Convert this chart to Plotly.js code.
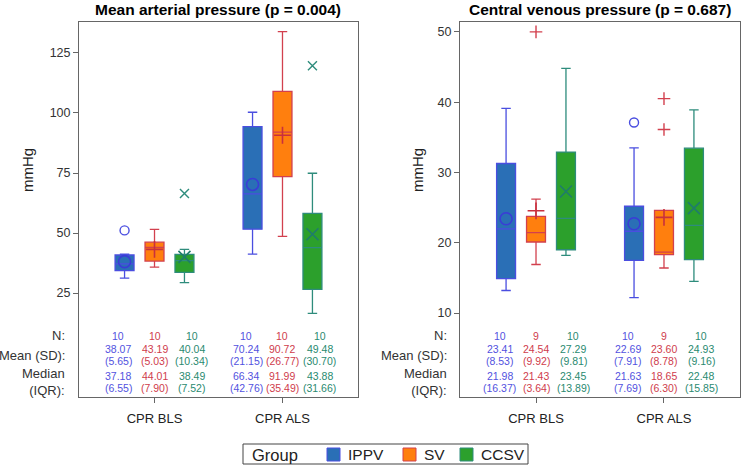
<!DOCTYPE html>
<html><head><meta charset="utf-8">
<script src="https://cdn.plot.ly/plotly-3.0.1.min.js"></script>
<style>html,body{margin:0;padding:0;background:#fff}</style>
</head><body><div id="chart" style="width:743px;height:469px"></div>
<script>
// ---------- data ----------
const categories = ['CPR BLS', 'CPR ALS'];
const groups = ['IPPV', 'SV', 'CCSV'];
const legendTitle = 'Group';
const panelTitles = ['Mean arterial pressure (p = 0.004)', 'Central venous pressure (p = 0.687)'];
const yTitle = 'mmHg';
const rowLabels = ['N:', 'Mean (SD):', 'Median<br>(IQR):'];

// Mean arterial pressure: [group][category]
const mapQ1 = [[34.3, 51.6], [38.3, 73.5], [33.6, 26.5]];
const mapMedian = [[37.18, 66.34], [44.01, 91.99], [38.49, 43.88]];
const mapQ3 = [[40.85, 94.36], [46.2, 108.99], [41.12, 58.16]];
const mapLow = [[31.25, 41.25], [35.8, 48.6], [29.3, 16.5]];
const mapHigh = [[41.2, 100.3], [51.5, 133.9], [43.2, 74.9]];
const mapN = [[10, 10], [10, 10], [10, 10]];
const mapMean = [[38.07, 70.24], [43.19, 90.72], [40.04, 49.48]];
const mapSD = [[5.65, 21.15], [5.03, 26.77], [10.34, 30.70]];
const mapIQR = [[6.55, 42.76], [7.90, 35.49], [7.52, 31.66]];
const mapOutGroup = [0, 2, 2];
const mapOutCat = [0, 0, 1];
const mapOutVal = [51.1, 66.5, 119.7];

// Central venous pressure: [group][category]
const cvpQ1 = [[14.9, 17.5], [20.1, 18.3], [19.0, 17.6]];
const cvpMedian = [[21.98, 21.63], [21.43, 18.65], [23.45, 22.48]];
const cvpQ3 = [[31.27, 25.19], [23.74, 24.6], [32.89, 33.45]];
const cvpLow = [[13.2, 12.2], [16.9, 16.4], [18.2, 14.5]];
const cvpHigh = [[39.1, 33.5], [26.2, 24.6], [44.8, 38.9]];
const cvpN = [[10, 10], [9, 9], [10, 10]];
const cvpMean = [[23.41, 22.69], [24.54, 23.60], [27.29, 24.93]];
const cvpSD = [[8.53, 7.91], [9.92, 8.78], [9.81, 9.16]];
const cvpIQR = [[16.37, 7.69], [3.64, 6.30], [13.89, 15.85]];
const cvpOutGroup = [1, 0, 1, 1];
const cvpOutCat = [0, 1, 1, 1];
const cvpOutVal = [50.0, 37.1, 40.5, 36.1];

const mapTicks = [25, 50, 75, 100, 125];
const cvpTicks = [10, 20, 30, 40, 50];

// ---------- style ----------
const FONT = 'Arial, "Liberation Sans", sans-serif';
const fillColors = ['#2a6fb6', '#ff7f0e', '#2ca02c'];
const lineColors = ['#4a4ee0', '#d2404e', '#2e8c7c'];
const markColors = ['#3a3cd6', '#c8303e', '#1f7c6c'];
const textColors = ['#5252e0', '#cf3c4c', '#2a8a70'];
const symbols = ['circle-open', 'cross-thin-open', 'x-thin-open'];
const boxOffset = [-0.234, 0, 0.234];
const textOffset = [-0.285, 0, 0.29];
const W = 743, H = 469;

const panels = [
  {xa: 'x', ya: 'y', q1: mapQ1, med: mapMedian, q3: mapQ3, lo: mapLow, hi: mapHigh,
   n: mapN, mean: mapMean, sd: mapSD, iqr: mapIQR,
   og: mapOutGroup, oc: mapOutCat, ov: mapOutVal,
   labelX: 67, titleX: 218, yTitleX: 27},
  {xa: 'x2', ya: 'y2', q1: cvpQ1, med: cvpMedian, q3: cvpQ3, lo: cvpLow, hi: cvpHigh,
   n: cvpN, mean: cvpMean, sd: cvpSD, iqr: cvpIQR,
   og: cvpOutGroup, oc: cvpOutCat, ov: cvpOutVal,
   labelX: 449, titleX: 600, yTitleX: 417}
];

const traces = [];
const annotations = [];
const shapes = [];
const py = px => 1 - px / H;
const pxX = px => px / W;

panels.forEach((p, pi) => {
  groups.forEach((gname, g) => {
    const xs = categories.map((c, i) => i + boxOffset[g]);
    traces.push({
      type: 'box', name: gname, showlegend: false,
      x: xs, q1: p.q1[g], median: p.med[g], q3: p.q3[g],
      lowerfence: p.lo[g], upperfence: p.hi[g],
      width: 0.148, whiskerwidth: 0.5, boxpoints: false,
      fillcolor: fillColors[g], line: {color: lineColors[g], width: 1.3},
      xaxis: p.xa, yaxis: p.ya, hoverinfo: 'skip'
    });
  });
  groups.forEach((gname, g) => {
    const xs = categories.map((c, i) => i + boxOffset[g]);
    traces.push({
      type: 'scatter', mode: 'markers', showlegend: false,
      x: xs, y: p.mean[g], xaxis: p.xa, yaxis: p.ya, hoverinfo: 'skip',
      marker: {symbol: symbols[g], size: 12, color: markColors[g], line: {color: markColors[g], width: 1.6}}
    });
    const ox = [], oy = [];
    p.og.forEach((gg, k) => { if (gg === g) { ox.push(p.oc[k] + boxOffset[g]); oy.push(p.ov[k]); } });
    if (ox.length) traces.push({
      type: 'scatter', mode: 'markers', showlegend: false,
      x: ox, y: oy, xaxis: p.xa, yaxis: p.ya, hoverinfo: 'skip',
      marker: {symbol: symbols[g], size: 9, color: lineColors[g], line: {color: lineColors[g], width: 1.4}}
    });
    categories.forEach((c, i) => {
      const rows = [
        [String(p.n[g][i]), 335.7],
        [p.mean[g][i].toFixed(2), 349],
        ['(' + p.sd[g][i].toFixed(2) + ')', 361],
        [p.med[g][i].toFixed(2), 376],
        ['(' + p.iqr[g][i].toFixed(2) + ')', 388]
      ];
      rows.forEach(r => annotations.push({
        xref: p.xa, yref: 'paper', x: i + textOffset[g], y: py(r[1]),
        text: r[0], showarrow: false, xanchor: 'center', yanchor: 'middle',
        font: {family: FONT, size: 10.5, color: textColors[g]}
      }));
    });
  });
  [[rowLabels[0], 335.7], [rowLabels[1], 355.5], [rowLabels[2], 382]].forEach(r =>
    annotations.push({xref: 'paper', yref: 'paper', x: pxX(p.labelX), y: py(r[1]), text: r[0],
      showarrow: false, xanchor: 'right', yanchor: 'middle', align: 'right',
      font: {family: FONT, size: 13, color: '#333'}}));
  annotations.push({xref: 'paper', yref: 'paper', x: pxX(p.titleX), y: py(10), text: '<b>' + panelTitles[pi] + '</b>',
    showarrow: false, xanchor: 'center', yanchor: 'middle', font: {family: FONT, size: 15.5, color: '#000'}});
  annotations.push({xref: 'paper', yref: 'paper', x: pxX(p.yTitleX), y: py(170), text: yTitle, textangle: -90,
    showarrow: false, xanchor: 'center', yanchor: 'middle', font: {family: FONT, size: 15, color: '#222'}});
});

// ---------- legend (drawn with shapes + text) ----------
shapes.push({type: 'rect', xref: 'paper', yref: 'paper', x0: pxX(243), x1: pxX(528), y0: py(464), y1: py(444),
  line: {color: '#444', width: 1}, fillcolor: 'rgba(0,0,0,0)'});
annotations.push({xref: 'paper', yref: 'paper', x: pxX(250), y: py(454.5), text: legendTitle, showarrow: false,
  xanchor: 'left', yanchor: 'middle', font: {family: FONT, size: 16.5, color: '#222'}});
const legSquareX = [327, 403, 460];
groups.forEach((gname, g) => {
  const x0 = legSquareX[g];
  shapes.push({type: 'rect', xref: 'paper', yref: 'paper', x0: pxX(x0), x1: pxX(x0 + 13), y0: py(461), y1: py(448),
    line: {color: lineColors[g], width: 1}, fillcolor: fillColors[g]});
  annotations.push({xref: 'paper', yref: 'paper', x: pxX(x0 + 19), y: py(454.5), text: gname, showarrow: false,
    xanchor: 'left', yanchor: 'middle', font: {family: FONT, size: 15.5, color: '#222'}});
});

const axCommon = {
  showline: true, mirror: true, linecolor: '#666', linewidth: 1, zeroline: false, showgrid: false,
  ticks: 'outside', ticklen: 5, tickcolor: '#666', tickfont: {family: FONT, size: 12.5, color: '#333'}
};
const yDomain = [1 - 397 / H, 1 - 22 / H];
const xTickFont = {family: FONT, size: 13, color: '#222'};

const layout = {
  width: W, height: H, margin: {l: 0, r: 0, t: 0, b: 0},
  paper_bgcolor: '#fff', plot_bgcolor: '#fff', font: {family: FONT, color: '#333'},
  boxmode: 'overlay', showlegend: false,
  xaxis: Object.assign({}, axCommon, {domain: [79 / W, 358 / W], range: [-0.59, 1.59], tickvals: [0, 1], ticktext: categories, anchor: 'y', tickfont: xTickFont, ticklabelstandoff: 4}),
  yaxis: Object.assign({}, axCommon, {domain: yDomain, range: [-18.3, 137.9], tickvals: mapTicks, anchor: 'x'}),
  xaxis2: Object.assign({}, axCommon, {domain: [460 / W, 740 / W], range: [-0.594, 1.594], tickvals: [0, 1], ticktext: categories, anchor: 'y2', tickfont: xTickFont, ticklabelstandoff: 4}),
  yaxis2: Object.assign({}, axCommon, {domain: yDomain, range: [-1.95, 51.4], tickvals: cvpTicks, anchor: 'x2'}),
  annotations: annotations,
  shapes: shapes
};

Plotly.newPlot('chart', traces, layout, {displayModeBar: false, staticPlot: true});
</script></body></html>
